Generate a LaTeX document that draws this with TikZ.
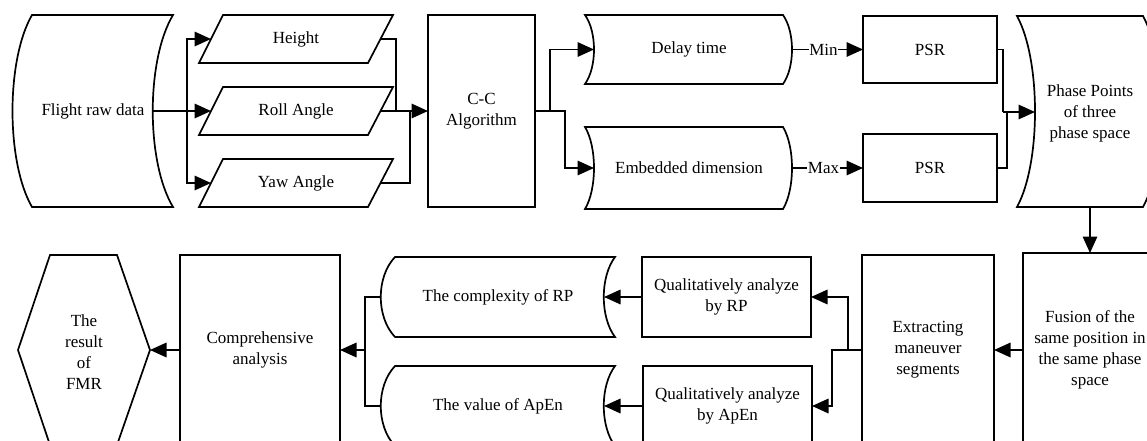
\documentclass[tikz,border=0pt]{standalone}
\usepackage{fontspec}
\setmainfont{Liberation Serif}
\usetikzlibrary{arrows.meta}
\begin{document}
\begin{tikzpicture}[x=1pt,y=-1pt,
  font=\fontsize{17}{21}\selectfont,
  shp/.style={draw=black, line width=1.7pt, line join=miter},
  lbl/.style={align=center, inner sep=0pt},
  boxn/.style={draw=black, line width=1.7pt, inner sep=0pt, outer sep=0pt, align=center, anchor=north west},
  ln/.style={line width=1.7pt},
  arr/.style={line width=1.7pt, -{Triangle[length=16.5pt,width=14.5pt]}},
  tag/.style={fill=white, inner sep=0.5pt},
]
\useasboundingbox (0,0) rectangle (1147,441);
\clip (0,0) rectangle (1147,441);

% Flight raw data
\draw[shp] (32,15) -- (173,15) .. controls (146,60) and (146,162) .. (173,207) -- (32,207) .. controls (6,162) and (6,60) .. cycle;
\node[lbl] (raw) at (93,111) {Flight raw data};
\coordinate (rawE) at (153,111);

% parallelograms
\draw[shp] (223,15) -- (393,15) -- (368,63) -- (199,63) -- cycle;
\node[lbl] (hgt) at (296,39) {Height};
\coordinate (hgtW) at (211,39); \coordinate (hgtE) at (380.5,39);
\draw[shp] (223,87) -- (393,87) -- (368,135) -- (199,135) -- cycle;
\node[lbl] (rol) at (296,111) {Roll Angle};
\coordinate (rolW) at (211,111); \coordinate (rolE) at (380.5,111);
\draw[shp] (223,159) -- (393,159) -- (368,207) -- (199,207) -- cycle;
\node[lbl] (yaw) at (296,183) {Yaw Angle};
\coordinate (yawW) at (211,183); \coordinate (yawE) at (380.5,183);

\coordinate (b1) at (187,111);
\draw[arr] (rawE) -- (rolW);
\draw[arr] (b1) |- (hgtW);
\draw[arr] (b1) |- (yawW);

% C-C
\node[boxn, minimum width=107pt, minimum height=192pt] (cc) at (428,15) {C-C\\Algorithm};
\coordinate (m1) at (396,111); \coordinate (m2) at (410,111);
\draw[ln] (hgtE) -| (m1);
\draw[ln] (yawE) -| (m2);
\draw[arr] (rolE) -- (cc.west);

% Delay time / Embedded dimension
\draw[shp] (585,15) -- (783,15) .. controls (795,32) and (795,67) .. (783,84) -- (585,84) .. controls (597,67) and (597,32) .. cycle;
\node[lbl] (del) at (689,49.5) {Delay time};
\coordinate (delW) at (594,49.5); \coordinate (delE) at (792,49.5);
\draw[shp] (585,127) -- (783,127) .. controls (795,147) and (795,189) .. (783,209) -- (585,209) .. controls (597,189) and (597,147) .. cycle;
\node[lbl] (emb) at (689,168) {Embedded dimension};
\coordinate (embW) at (594,168); \coordinate (embE) at (792,168);

\coordinate (c1) at (550,111); \coordinate (c2) at (565,111);
\draw[arr] (cc.east) -- (c1) |- (delW);
\draw[arr] (cc.east) -- (c2) |- (embW);

% PSR
\node[boxn, minimum width=134pt, minimum height=67pt] (psr1) at (863,16) {PSR};
\node[boxn, minimum width=134pt, minimum height=68pt] (psr2) at (863,134) {PSR};
\draw[arr] (delE) -- node[tag, xshift=-4pt]{Min} (psr1.west);
\draw[arr] (embE) -- node[tag, xshift=-4pt]{Max} (psr2.west);

% Phase points
\draw[shp] (1017,16) -- (1143,16) .. controls (1167,60) and (1167,163) .. (1143,207) -- (1017,207) .. controls (1041,163) and (1041,60) .. cycle;
\node[lbl] (pha) at (1090,113) {Phase Points\\of three\\phase space};
\coordinate (phW) at (1035,112); \coordinate (phS) at (1090,207);
\coordinate (p1) at (1003,112); \coordinate (p2) at (1007,112);
\draw[ln] (psr1.east) -| (p1);
\draw[ln] (psr2.east) -| (p2);
\draw[arr] (p1) -- (phW);

% Fusion
\node[boxn, minimum width=134pt, minimum height=194pt] (fus) at (1023,253) {Fusion of the\\same position in\\the same phase\\space};
\draw[arr] (phS) -- (fus.north);

% Extracting
\node[boxn, minimum width=132pt, minimum height=190pt] (ext) at (862,255) {Extracting\\maneuver\\segments};
\draw[arr] (fus.west) -- (ext.east);

% Qualitative analyses
\node[boxn, minimum width=169pt, minimum height=80pt] (qrp) at (642,257) {Qualitatively analyze\\by RP};
\node[boxn, minimum width=169pt, minimum height=80pt] (qap) at (643,366) {Qualitatively analyze\\by ApEn};
\coordinate (e1) at (848,350); \coordinate (e2) at (832,350);
\draw[arr] (ext.west) -- (e1) |- (qrp.east);
\draw[arr] (ext.west) -- (e2) |- (qap.east);

% Complexity / value
\draw[shp] (395,257) -- (615,257) .. controls (600,277) and (600,317) .. (615,337) -- (395,337) .. controls (376,317) and (376,277) .. cycle;
\node[lbl] (cpx) at (498,297) {The complexity of RP};
\coordinate (cpxW) at (381,297); \coordinate (cpxE) at (604,297);
\draw[shp] (395,366) -- (615,366) .. controls (600,386) and (600,426) .. (615,446) -- (395,446) .. controls (376,426) and (376,386) .. cycle;
\node[lbl] (apv) at (498,406) {The value of ApEn};
\coordinate (apvW) at (381,406); \coordinate (apvE) at (604,406);
\draw[arr] (qrp.west) -- (cpxE);
\draw[arr] (qap.west) -- (apvE);

% Comprehensive
\node[boxn, minimum width=160pt, minimum height=190pt] (cmp) at (180,255) {Comprehensive\\analysis};
\coordinate (k1) at (365,350);
\draw[ln] (cpxW) -| (k1);
\draw[ln] (apvW) -| (k1);
\draw[arr] (k1) -- (cmp.east);

% Result hexagon
\draw[shp] (50,255) -- (117,255) -- (150,350) -- (117,445) -- (50,445) -- (18,350) -- cycle;
\node[lbl] (res) at (84,352) {The\\result\\of\\FMR};
\coordinate (resE) at (150,350);
\draw[arr] (cmp.west) -- (resE);
\end{tikzpicture}
\end{document}
